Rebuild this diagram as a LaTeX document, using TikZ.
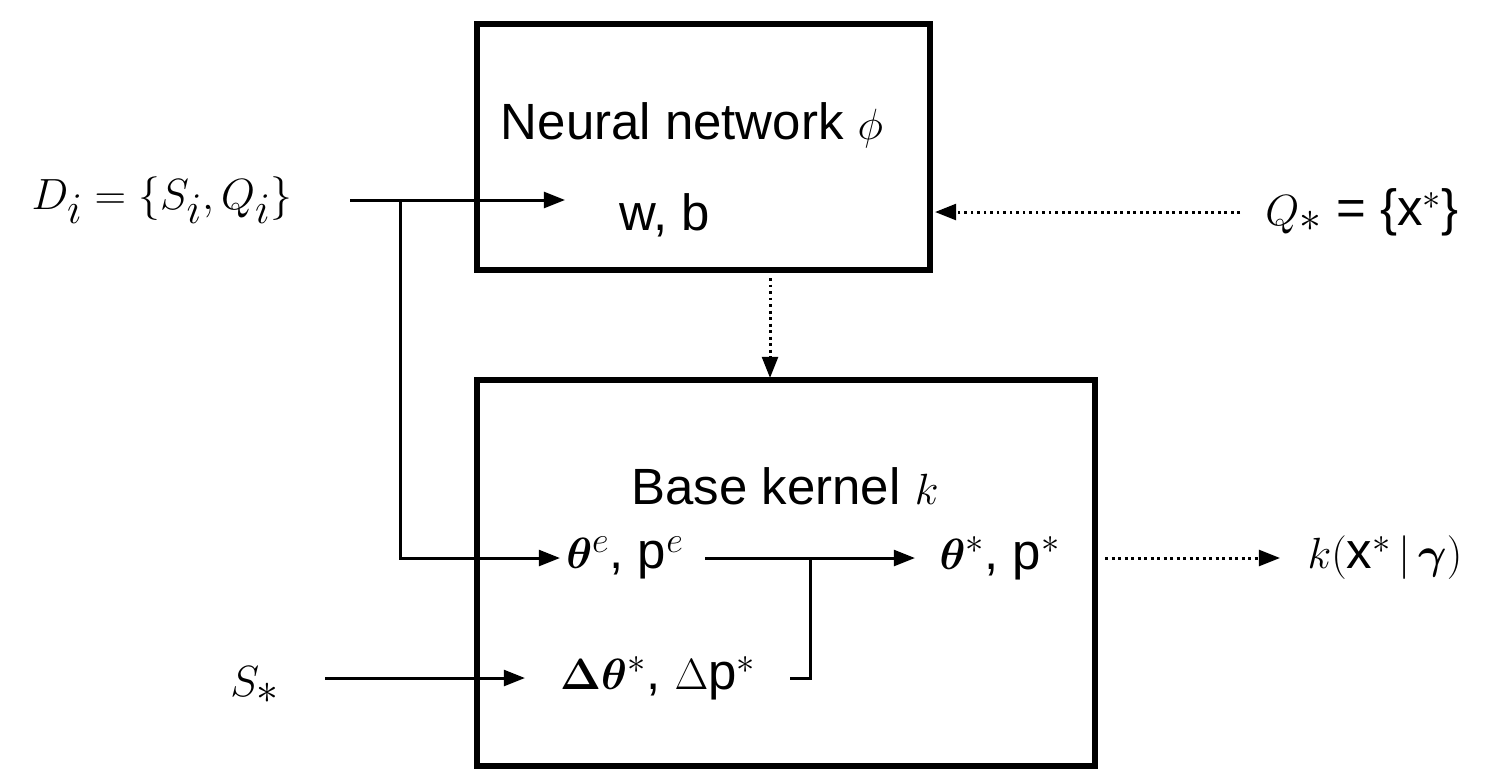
\documentclass[tikz,border=0pt]{standalone}
\usepackage{fontspec}
\usepackage{amsmath,bm}
\setmainfont{Liberation Sans}
\usetikzlibrary{arrows.meta}
\begin{document}
\begin{tikzpicture}[x=0.02cm,y=-0.02cm,
  box/.style={draw,line width=3.4pt},
  lbl/.style={inner sep=1pt,font=\fontsize{29}{34}\selectfont},
  mlbl/.style={inner sep=1pt,font=\fontsize{35}{40}\selectfont},
  arr/.style={line width=1.7pt,-{Triangle[length=12pt,width=9pt]}},
  ln/.style={line width=1.7pt},
  darr/.style={line width=1.7pt,dotted,-{Triangle[length=12pt,width=9pt]}}]
\useasboundingbox (0,0) rectangle (1496,782);
\draw[box] (477,24) rectangle (930,270);
\draw[box] (477,380) rectangle (1095,766);
\node[lbl] (nnt) at (692,125) {Neural network $\phi$};
\node[lbl] (wb) at (665,215) {w, b};
\node[mlbl] (D) at (162,200) {$D_i=\{S_i,Q_i\}$};
\node[lbl] (Q) at (1362,212) {\fontsize{35}{40}\selectfont$Q_*$\fontsize{29}{34}\selectfont{} = \{x$^*$\}};
\node[lbl] (bk) at (785,486) {Base kernel $k$};
\node[lbl] (te) at (625,558) {$\bm{\theta}^e$, p$^e$};
\node[lbl] (ts) at (1000,558) {$\bm{\theta}^*$, p$^*$};
\node[lbl] (k) at (1385,558) {$k($x$^*\,|\,\bm{\gamma})$};
\node[mlbl] (S) at (255,685) {$S_*$};
\node[lbl] (dt) at (658,678) {$\bm{\Delta\theta}^*$, $\Delta$p$^*$};
\coordinate (a1) at (350,200); \coordinate (a2) at (565,200);
\coordinate (b1) at (400,200); \coordinate (b2) at (400,558); \coordinate (b3) at (560,558);
\coordinate (c1) at (1240,212); \coordinate (c2) at (935,212);
\coordinate (d1) at (770,278); \coordinate (d2) at (770,378);
\coordinate (e1) at (705,558); \coordinate (e2) at (915,558);
\coordinate (f1) at (810,558); \coordinate (f2) at (810,678); \coordinate (f3) at (790,678);
\coordinate (g1) at (1105,558); \coordinate (g2) at (1280,558);
\coordinate (h1) at (325,678); \coordinate (h2) at (525,678);
\draw[arr] (a1) -- (a2);
\draw[arr] (b1) -- (b2) -- (b3);
\draw[darr] (c1) -- (c2);
\draw[darr] (d1) -- (d2);
\draw[arr] (e1) -- (e2);
\draw[ln] (f1) -- (f2) -- (f3);
\draw[darr] (g1) -- (g2);
\draw[arr] (h1) -- (h2);
\end{tikzpicture}
\end{document}
